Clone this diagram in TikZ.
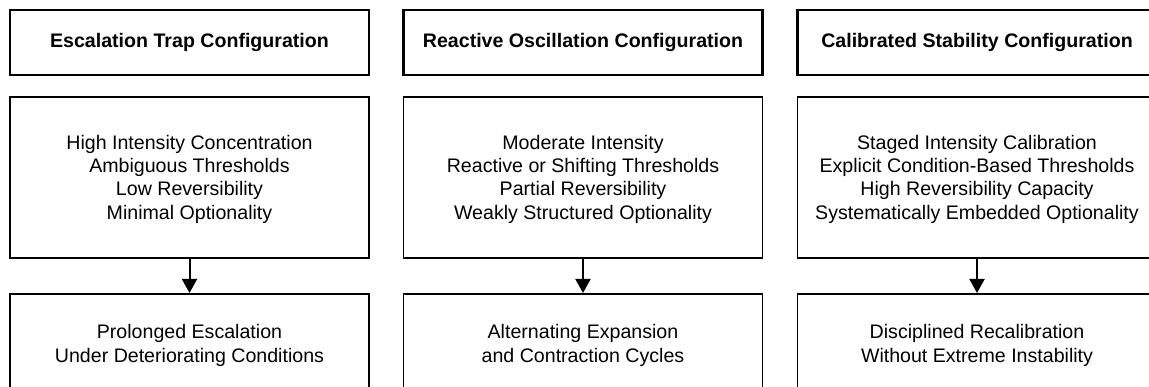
\documentclass[tikz,border=0pt]{standalone}
\usepackage{fontspec}
\setmainfont{Liberation Sans}
\usetikzlibrary{arrows.meta}
\begin{document}
\begin{tikzpicture}[x=1pt,y=-1pt,
  titlebox/.style={draw=black,line width=2.2pt,minimum width=359pt,minimum height=65pt,inner sep=0pt,font=\fontsize{19.6}{23}\selectfont\bfseries,align=center},
  bodybox/.style={draw=black,line width=1.6pt,minimum width=359pt,minimum height=161pt,inner sep=0pt,anchor=north},
  bodytext/.style={font=\fontsize{19.6}{23.3}\selectfont,align=center},
  outbox/.style={draw=black,line width=1.6pt,minimum width=359pt,minimum height=130pt,inner sep=0pt,anchor=north},
  flow/.style={line width=2pt,-{Triangle[length=14pt,width=15pt]}}]
\useasboundingbox (0,0) rectangle (1149,387);
\clip (0,0) rectangle (1149,387);
\fill[white] (0,0) rectangle (1149,387);
% columns
\foreach \n/\cx/\title/\body/\out in {
  a/189.5/{Escalation Trap Configuration}/{High Intensity Concentration\\Ambiguous Thresholds\\Low Reversibility\\Minimal Optionality}/{Prolonged Escalation\\Under Deteriorating Conditions},
  b/583/{Reactive Oscillation Configuration}/{Moderate Intensity\\Reactive or Shifting Thresholds\\Partial Reversibility\\Weakly Structured Optionality}/{Alternating Expansion\\and Contraction Cycles},
  c/977/{Calibrated Stability Configuration}/{Staged Intensity Calibration\\Explicit Condition-Based Thresholds\\High Reversibility Capacity\\Systematically Embedded Optionality}/{Disciplined Recalibration\\Without Extreme Instability}}{
  \node[titlebox] (t\n) at (\cx,42.5) {\title};
  \node[bodybox] (m\n) at (\cx,96) {};
  \node[bodytext] (mt\n) at (\cx,179) {\body};
  \node[outbox] (o\n) at (\cx,293) {};
  \node[bodytext] (ot\n) at (\cx,345.5) {\out};
  \draw[flow] (m\n.south) -- (o\n.north);
}
\end{tikzpicture}
\end{document}
